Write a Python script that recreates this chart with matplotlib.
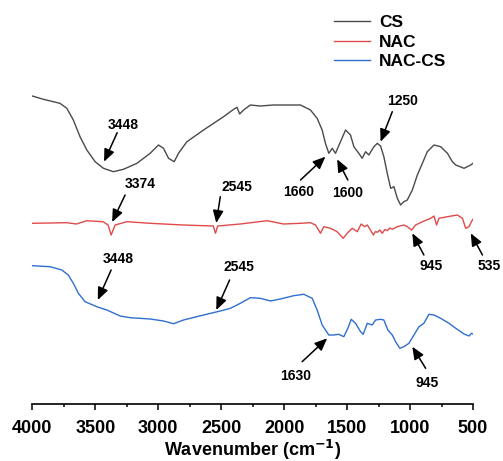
import matplotlib
matplotlib.use("Agg")
import matplotlib.pyplot as plt

plt.rcParams['font.family'] = ['Liberation Sans', 'DejaVu Sans']

# wavenumber (cm-1) and offset transmittance (a.u.)
cs_wn = [4000, 3912, 3780, 3726, 3674, 3621, 3567, 3501, 3435, 3356, 3276, 3169,
         3064, 2998, 2958, 2918, 2873, 2839, 2772, 2640, 2481, 2401, 2374, 2353,
         2322, 2268, 2189, 2085, 1870, 1791, 1738, 1698, 1672, 1645, 1618, 1592,
         1558, 1512, 1473, 1446, 1407, 1380, 1353, 1327, 1287, 1260, 1234, 1208,
         1181, 1154, 1128, 1101, 1075, 1049, 1022, 982, 942, 902, 863, 810,
         757, 703, 664, 637, 571, 518, 500]
cs_t = [308, 304.7, 300.7, 295.7, 284, 267.3, 254, 242.3, 235.7, 232.3, 234.7, 240.7,
        250.7, 259, 255.7, 245.7, 242.3, 250.7, 262.3, 274, 287.3, 294.7, 296.7, 290,
        294, 299, 298, 299, 299, 294, 285.7, 274, 260.7, 250.7, 255.7, 250.7,
        260.7, 274, 269, 257.3, 250.7, 245.7, 252.3, 249, 257.3, 260.7, 258, 247.3,
        230.7, 215.7, 217.3, 205.7, 199, 202.3, 204, 214, 229, 240.7, 252.3, 259,
        257.3, 250.7, 242.3, 239, 235.7, 239, 240.7]

nac_wn = [4000, 3726, 3650, 3567, 3438, 3398, 3374, 3342, 3249, 3064, 2801, 2563,
          2545, 2528, 2348, 2135, 2006, 1870, 1791, 1751, 1711, 1685, 1632, 1579,
          1531, 1499, 1459, 1419, 1388, 1361, 1340, 1314, 1292, 1275, 1260, 1240,
          1221, 1200, 1181, 1160, 1141, 1101, 1049, 1022, 987, 956, 902, 836,
          810, 789, 770, 703, 624, 584, 558, 532, 505, 500]
nac_t = [180.7, 181.3, 180, 183.3, 182.3, 179, 169, 179, 182.3, 180.7, 179, 178,
         170.7, 178, 180, 183.3, 180, 180.7, 181.3, 179, 170.7, 177.3, 175.7, 172.3,
         165.7, 170.7, 175.7, 172.3, 180, 177.3, 179, 174, 169, 172.5, 171.7, 174,
         170.7, 174.5, 173.3, 176, 174.7, 177.3, 179, 177.3, 174, 179, 182.3, 185.7,
         188, 179, 185.7, 187.3, 189, 185.7, 175.7, 177.3, 184, 184.7]

nac_cs_wn = [4000, 3859, 3766, 3714, 3674, 3634, 3581, 3488, 3408, 3302, 3223, 3064,
             2958, 2878, 2799, 2640, 2507, 2427, 2348, 2268, 2189, 2109, 2030, 1924,
             1844, 1777, 1738, 1711, 1698, 1645, 1606, 1566, 1526, 1494, 1467, 1433,
             1393, 1372, 1340, 1300, 1274, 1234, 1208, 1176, 1141, 1115, 1081, 1049,
             1009, 969, 929, 890, 850, 810, 757, 691, 637, 571, 532, 512, 500]
nac_cs_t = [138.3, 137.3, 134, 129, 120.7, 110.7, 102.3, 97.3, 94, 88, 86.3, 85,
            83, 80.3, 84, 89, 93, 95.7, 100.7, 106.3, 105.7, 103, 105, 108.3,
            109.7, 105.7, 94, 84, 79, 69, 69, 69.7, 67.3, 75.7, 84.7, 80.7,
            72.3, 69.7, 80.7, 79, 84, 84.7, 84, 74, 69, 62.3, 55.7, 57.3,
            60.7, 69, 77.3, 80.7, 89.7, 89, 85.7, 80.7, 75.7, 70, 68, 70.7, 70]

# peak labels: text, text position, arrow start, arrow tip (wavenumber, height)
peak_text = ["3448", "1660", "1600", "1250",
             "3374", "2545", "945", "535",
             "3448", "2545", "1630", "945"]
text_pos = [(3276, 279), (1884, 212.3), (1494, 210.7), (1061, 303.3),
            (3143, 220), (2374, 217.3), (836, 138), (373, 138),
            (3316, 144.7), (2361, 136.7), (1910, 28), (863, 21.3)]
arrow_from = [(3326, 271.3), (1870, 224), (1494, 224), (1141, 292.3),
              (3263, 209), (2507, 207.3), (890, 149), (425, 149),
              (3374, 134), (2433, 124), (1857, 42.3), (876, 35.7)]
arrow_to = [(3430, 242.3), (1672, 247.3), (1579, 244.7), (1234, 262.3),
            (3366, 182), (2539, 181), (982, 170.7), (518, 170.7),
            (3480, 104), (2539, 94), (1658, 65.7), (982, 57.3)]

fig = plt.figure(figsize=(5.03, 4.61), dpi=100)
ax = fig.add_axes([32.3 / 503, 57 / 461, 440.7 / 503, 399 / 461])

ax.plot(cs_wn, cs_t, color="#4a4a4a", linewidth=1.0, label="CS")
ax.plot(nac_wn, nac_t, color="#e04a4a", linewidth=1.0, label="NAC")
ax.plot(nac_cs_wn, nac_cs_t, color="#2f6fd0", linewidth=1.0, label="NAC-CS")

for txt, tp, a0, a1 in zip(peak_text, text_pos, arrow_from, arrow_to):
    ax.text(tp[0], tp[1], txt, ha="center", va="center", fontsize=10,
            fontweight="bold", clip_on=False)
    ax.annotate("", xy=a1, xytext=a0,
                arrowprops=dict(arrowstyle="-|>,head_length=0.75,head_width=0.32",
                                color="black", lw=1.1, mutation_scale=10,
                                shrinkA=0, shrinkB=0))

ax.set_xlim(4000, 500)
ax.set_ylim(0, 399)
ax.set_xticks([4000, 3500, 3000, 2500, 2000, 1500, 1000, 500])
ax.set_xticks(range(3750, 500, -500), minor=True)
ax.set_yticks([])
for side in ("left", "right", "top"):
    ax.spines[side].set_visible(False)
ax.spines["bottom"].set_linewidth(1.2)
ax.tick_params(axis="x", which="major", length=4.5, width=1.1, pad=7,
               labelsize=13)
ax.tick_params(axis="x", which="minor", length=2.5, width=1.1)
for lab in ax.get_xticklabels():
    lab.set_fontweight("bold")
ax.set_xlabel("Wavenumber (cm$^{\\mathbf{-1}}$)", fontsize=13,
              fontweight="bold", labelpad=1)

fig.legend(loc="upper left", bbox_to_anchor=(334 / 503, 1 - 15 / 461),
           frameon=False, prop={"weight": "bold", "size": 12.5},
           handlelength=2.1, handletextpad=0.5, labelspacing=0.25,
           borderpad=0, borderaxespad=0)

fig.savefig("out.png", dpi=100)
